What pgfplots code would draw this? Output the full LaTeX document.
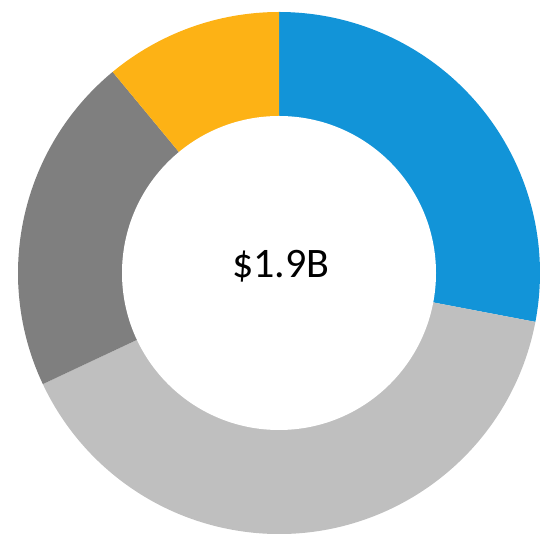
\documentclass[border=0pt]{standalone}
\usepackage{pgfplots}
\pgfplotsset{compat=1.18}
\usepackage{fontspec}
\setmainfont{Carlito}
\definecolor{cBlue}{RGB}{18,148,216}
\definecolor{cLight}{RGB}{191,191,191}
\definecolor{cDark}{RGB}{127,127,127}
\definecolor{cYellow}{RGB}{253,178,21}

\begin{document}
\begin{tikzpicture}
\begin{axis}[
    hide axis,
    scale only axis,
    width=549pt, height=534pt,
    xmin=0, xmax=549, ymin=0, ymax=534,
    clip=true,
]
\path[use as bounding box] (rel axis cs:0,0) rectangle (rel axis cs:1,1);
% shares in percent, clockwise from twelve o'clock
\gdef\cum{0}
\foreach \v/\col in {28/cBlue, 40/cLight, 21/cDark, 11/cYellow} {
    \pgfmathsetmacro{\aa}{90-3.6*\cum}
    \pgfmathsetmacro{\bb}{90-3.6*(\cum+\v)}
    \edef\temp{\noexpand\fill[\col] (axis cs:279,261) -- ++(\aa:261pt) arc[start angle=\aa, end angle=\bb, radius=261pt] -- cycle;}
    \temp
    \pgfmathsetmacro{\tmp}{\cum+\v}
    \global\let\cum\tmp
}
\fill[white] (axis cs:279,261) circle[radius=157pt];
\node[anchor=base, font=\fontsize{42}{50}\selectfont] at (axis cs:281,256) {\$1.9B};
\end{axis}
\end{tikzpicture}
\end{document}
